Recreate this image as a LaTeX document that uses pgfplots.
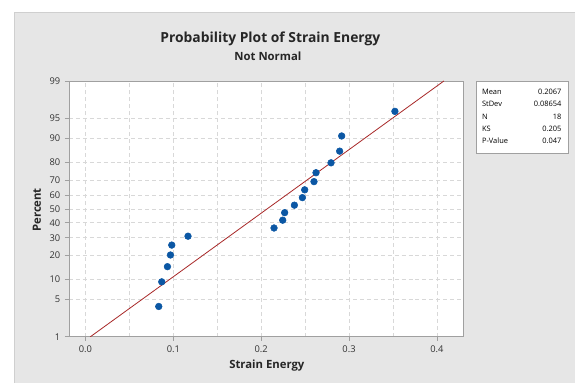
\documentclass[border=0pt]{standalone}
\usepackage{pgfplots}
\pgfplotsset{compat=1.18}
\usepackage{fontspec}
\setmainfont{Open Sans}
\definecolor{bg}{HTML}{E6E6E6}
\definecolor{bgline}{HTML}{CFCFCF}
\definecolor{ptblue}{HTML}{0B57A4}
\definecolor{fitred}{HTML}{A82828}
\definecolor{gridc}{HTML}{D8D8D8}
\definecolor{frame}{HTML}{A0A0A0}
\definecolor{txt}{HTML}{333333}
\begin{document}
\begin{tikzpicture}[x=0.75pt,y=-0.75pt]
\fill[white] (0,0) rectangle (575,383);
\fill[bg] (14,12) rectangle (575,383);
\draw[bgline] (14,383) -- (14,12) -- (575,12);
\coordinate (ll) at (69,337);
\begin{axis}[
  at={(ll)}, anchor=south west, scale only axis,
  width=296.25pt, height=192pt,
  xmin=-0.0188, xmax=0.4306, ymin=-2.3263, ymax=2.3263,
  axis background/.style={fill=white},
  xtick={0,0.1,0.2,0.3,0.4}, xticklabels={0.0,0.1,0.2,0.3,0.4},
  minor xtick={0.05,0.15,0.25,0.35},
  ytick={-2.3263,-1.6449,-1.2816,-0.8416,-0.5244,-0.2533,0,0.2533,0.5244,0.8416,1.2816,1.6449,2.3263},
  yticklabels={1,5,10,20,30,40,50,60,70,80,90,95,99},
  grid=both,
  major grid style={dash pattern=on 3pt off 2.2pt, gridc, line width=0.6pt},
  minor grid style={dash pattern=on 3pt off 2.2pt, gridc, line width=0.6pt},
  tick align=outside, tick pos=left,
  major tick length=3pt, minor tick length=0pt,
  tick style={frame, line width=0.6pt},
  axis line style={frame, line width=0.7pt},
  ticklabel style={font=\fontsize{7}{8}\selectfont, text=txt},
  clip=true,
]
\addplot[fitred, line width=0.6pt] coordinates {(0.0054,-2.3263) (0.4080,2.3263)};
\addplot[only marks, mark=*, mark size=2.5pt, color=ptblue, mark options={fill=ptblue, draw=ptblue}] coordinates {
(0.0834,-1.774) (0.0868,-1.326) (0.0933,-1.050) (0.0967,-0.838) (0.0982,-0.658) (0.1167,-0.496)
(0.2146,-0.347) (0.2245,-0.205) (0.2267,-0.068) (0.2378,0.068) (0.2469,0.205) (0.2495,0.347)
(0.2601,0.496) (0.2624,0.658) (0.2795,0.838) (0.2893,1.050) (0.2916,1.326) (0.3522,1.774)};
\end{axis}
\node[font=\fontsize{10.4}{12}\selectfont\bfseries, text=black!85] at (270.5,39) {Probability Plot of Strain Energy};
\node[font=\fontsize{8.5}{10}\selectfont\bfseries, text=black!85] at (268,56) {Not Normal};
\node[font=\fontsize{8.5}{10}\selectfont\bfseries, text=black!85, rotate=90] at (37,210) {Percent};
\node[font=\fontsize{8.5}{10}\selectfont\bfseries, text=black!85] at (267,366) {Strain Energy};
\draw[frame, fill=white, line width=0.6pt] (477,81) rectangle (569,153);
\foreach \yy/\lab/\val in {92/Mean/0.2067, 104/StDev/0.08654, 116.5/N/18, 129/KS/0.205, 141/P-Value/0.047}{
  \node[anchor=west, font=\fontsize{5.6}{6}\selectfont, text=black, inner sep=0pt] at (482,\yy) {\lab};
  \node[anchor=east, font=\fontsize{5.6}{6}\selectfont, text=black, inner sep=0pt] at (562,\yy) {\val};
}
\end{tikzpicture}
\end{document}
